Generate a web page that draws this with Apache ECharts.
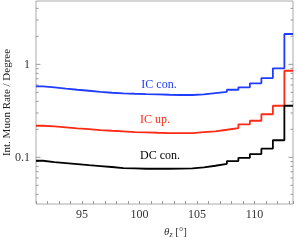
<!DOCTYPE html>
<html><head><meta charset="utf-8">
<script src="https://cdn.jsdelivr.net/npm/echarts@6/dist/echarts.min.js"></script>
<style>html,body{margin:0;padding:0;background:#fff}#c{width:297px;height:240px}</style>
</head><body><div id="c"></div>
<script>
// bin edges (degrees)
const binEdges = [91, 91.6, 92.6, 93.6, 94.6, 95.6, 96.6, 97.6, 98.6, 99.6, 100.6, 101.6, 102.6, 103.6, 104.6, 105.6, 106.6, 107.6, 108.6, 109.6, 110.6, 111.6, 112.6, 113.35];
// per-bin values
const icCon = [0.580, 0.566, 0.547, 0.533, 0.520, 0.507, 0.495, 0.488, 0.483, 0.479, 0.476, 0.471, 0.468, 0.468, 0.476, 0.491, 0.507, 0.533, 0.566, 0.625, 0.712, 0.906, 2.12];
const icUp = [0.2187, 0.2154, 0.2101, 0.2050, 0.2015, 0.1966, 0.1932, 0.1904, 0.1871, 0.1857, 0.1839, 0.1825, 0.1825, 0.1825, 0.1871, 0.1904, 0.1981, 0.2066, 0.2263, 0.2474, 0.2906, 0.3587, 0.853];
const dcCon = [0.0919, 0.0890, 0.0868, 0.0847, 0.0826, 0.0806, 0.0787, 0.0767, 0.0762, 0.0754, 0.0754, 0.0754, 0.0757, 0.0762, 0.0782, 0.0812, 0.0853, 0.0912, 0.0988, 0.1085, 0.1238, 0.1527, 0.3587];
const seriesNames = ['IC con.', 'IC up.', 'DC con.'];
const seriesColors = ['#1f3cff', '#ff2a14', '#000000'];
const xTickLabels = [95, 100, 105, 110];
const yMajorTicks = [0.1, 1];
const yMinorTicks = [0.04, 0.05, 0.06, 0.07, 0.08, 0.09, 0.2, 0.3, 0.4, 0.5, 0.6, 0.7, 0.8, 0.9, 2, 3, 4];
const xMin = 91, xMax = 113.35, yMin = 0.0315, yMax = 4.8;

function stepData(vals) {
  const d = vals.map((v, i) => [binEdges[i], v]);
  d.push([binEdges[binEdges.length - 1], vals[vals.length - 1]]);
  return d;
}
const FONT = 'Liberation Serif';
const chart = echarts.init(document.getElementById('c'), null, {renderer: 'canvas'});
const lineSeries = [icCon, icUp, dcCon].map((vals, i) => ({
  type: 'line', name: seriesNames[i], step: 'end', showSymbol: false, symbol: 'none',
  data: stepData(vals), lineStyle: {color: seriesColors[i], width: 1.8}, itemStyle: {color: seriesColors[i]},
  silent: true, animation: false, z: 3
}));
const tickItems = yMajorTicks.concat(yMinorTicks).map(v => [xMin, v]);
chart.setOption({
  animation: false,
  grid: {left: 36, right: 4, top: 1, bottom: 36, containLabel: false, outerBoundsMode: 'none',
         show: true, borderColor: '#aaaaaa', borderWidth: 1, backgroundColor: 'transparent'},
  xAxis: {
    type: 'value', min: xMin, max: xMax, interval: 1,
    axisLine: {show: false}, splitLine: {show: false},
    axisTick: {show: true, inside: true, length: 3, lineStyle: {color: '#999'}},
    axisLabel: {
      show: true, margin: 5, fontFamily: FONT, fontSize: 12, color: '#333', hideOverlap: false,
      formatter: v => xTickLabels.some(t => Math.abs(t - v) < 1e-6) ? String(Math.round(v)) : ''
    },
    name: '{i|θ}{s|z} [°]', nameLocation: 'middle', nameGap: 22, nameMoveOverlap: false,
    nameTextStyle: {fontFamily: FONT, fontSize: 11, color: '#333', padding: [0, 0, 0, 22],
      rich: {i: {fontFamily: FONT, fontSize: 11, fontStyle: 'italic', color: '#333'},
             s: {fontFamily: FONT, fontSize: 8, fontStyle: 'italic', color: '#333', padding: [5, 0, 0, 0]}}}
  },
  yAxis: {
    type: 'log', logBase: 10, min: yMin, max: yMax,
    axisLine: {show: false}, splitLine: {show: false}, axisTick: {show: false}, minorTick: {show: false},
    axisLabel: {
      margin: 6, fontFamily: FONT, fontSize: 12, color: '#333', hideOverlap: false,
      formatter: v => {
        for (const t of yMajorTicks) if (Math.abs(v - t) / t < 1e-6) return String(t);
        return '';
      }
    },
    name: 'Int. Muon Rate / Degree', nameLocation: 'middle', nameGap: 23, nameMoveOverlap: false,
    nameTextStyle: {fontFamily: FONT, fontSize: 11, color: '#222'}
  },
  series: lineSeries.concat([{
    type: 'custom', silent: true, z: 2, data: tickItems, encode: {x: 0, y: 1}, clip: false,
    renderItem: (params, api) => {
      const v = api.value(1);
      const p = api.coord([api.value(0), v]);
      const cs = params.coordSys;
      const major = yMajorTicks.some(t => Math.abs(t - v) / t < 1e-6);
      const len = major ? 4.5 : 2.5;
      const st = {stroke: '#999', lineWidth: 1};
      return {type: 'group', children: [
        {type: 'line', shape: {x1: cs.x, y1: p[1], x2: cs.x + len, y2: p[1]}, style: st},
        {type: 'line', shape: {x1: cs.x + cs.width - len, y1: p[1], x2: cs.x + cs.width, y2: p[1]}, style: st}
      ]};
    }
  }]),
  graphic: [
    {type: 'text', x: 159, y: 85, style: {text: seriesNames[0], fill: seriesColors[0], font: '12px "Liberation Serif"', align: 'center', verticalAlign: 'middle'}},
    {type: 'text', x: 155, y: 120, style: {text: seriesNames[1], fill: seriesColors[1], font: '12px "Liberation Serif"', align: 'center', verticalAlign: 'middle'}},
    {type: 'text', x: 160, y: 156, style: {text: seriesNames[2], fill: seriesColors[2], font: '12px "Liberation Serif"', align: 'center', verticalAlign: 'middle'}}
  ]
});
</script></body></html>
